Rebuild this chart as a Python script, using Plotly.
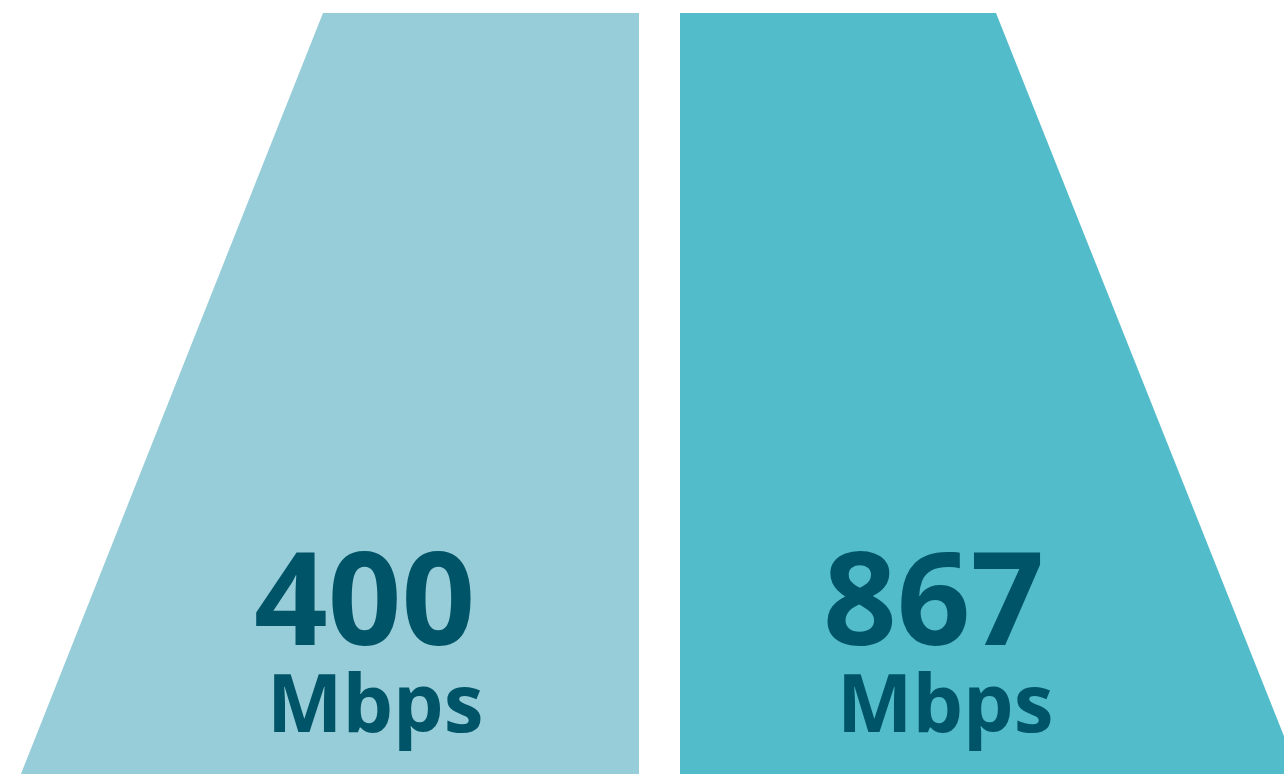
import plotly.graph_objects as go

# Data
categories = ["400", "867"]
speeds = [400, 867]
unit_label = "Mbps"

# Styles
fill_colors = ["rgb(150,205,216)", "rgb(82,188,203)"]
text_color = "rgb(0,84,104)"

W, H = 1284, 774
TOP = H - 13  # y of panel top (y measured upwards)

# panel geometry (layout, px-like units)
panels = [
    dict(xs=[323, 639, 639, 13], ys=[TOP, TOP, -20, -20]),
    dict(xs=[680, 996, 1307, 680], ys=[TOP, TOP, -20, -20]),
]
num_x = [364, 933]
unit_x = [375, 945]

fig = go.Figure()
for i, cat in enumerate(categories):
    p = panels[i]
    fig.add_trace(go.Scatter(
        x=p["xs"] + [p["xs"][0]], y=p["ys"] + [p["ys"][0]],
        fill="toself", fillcolor=fill_colors[i], mode="none",
        hoverinfo="skip", showlegend=False,
    ))
    fig.add_annotation(x=num_x[i], y=H - 595, text=f"<b>{speeds[i]}</b>",
                       showarrow=False, xanchor="center", yanchor="middle",
                       font=dict(family="Open Sans", size=129, color=text_color))
    fig.add_annotation(x=unit_x[i], y=H - 700, text=f"<b>{unit_label}</b>",
                       showarrow=False, xanchor="center", yanchor="middle",
                       font=dict(family="Open Sans", size=80, color=text_color))

fig.update_layout(
    width=W, height=H, margin=dict(l=0, r=0, t=0, b=0),
    paper_bgcolor="white", plot_bgcolor="white",
    xaxis=dict(range=[0, W], visible=False, fixedrange=True),
    yaxis=dict(range=[0, H], visible=False, fixedrange=True),
)
fig.write_html(
    "out.html",
    config={"displayModeBar": False},
    post_script="document.body.style.margin='0';document.body.style.overflow='hidden';",
)
